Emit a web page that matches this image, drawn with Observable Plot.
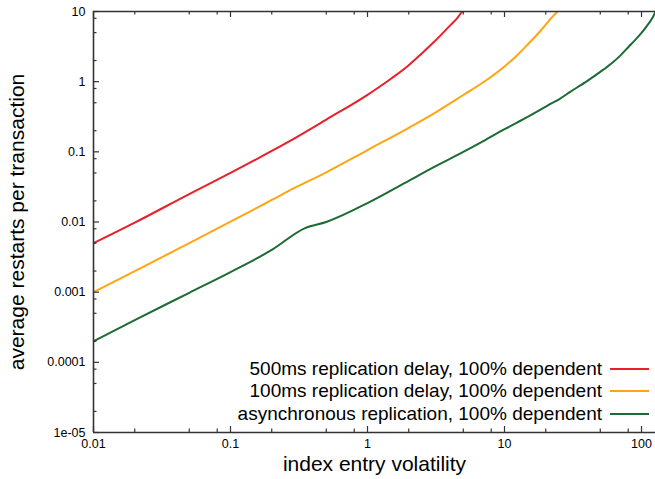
<!DOCTYPE html>
<html><head><meta charset="utf-8">
<script src="https://cdn.jsdelivr.net/npm/d3@7"></script>
<script src="https://cdn.jsdelivr.net/npm/@observablehq/plot@0.6"></script>
<style>
body{margin:0;background:#fff;}
#wrap{position:relative;width:655px;height:479px;font-family:"Liberation Sans",Arial,Helvetica,sans-serif;}
.lg{position:absolute;font-size:19px;color:#000;white-space:nowrap;line-height:19px;}
.sw{position:absolute;height:2px;}
</style></head><body><div id="wrap"></div>
<script>
// ---- data ----
const seriesNames = [
  "500ms replication delay, 100% dependent",
  "100ms replication delay, 100% dependent",
  "asynchronous replication, 100% dependent"
];
const seriesColors = ["#e8202a", "#ffa514", "#1c6a34"];

const redX = [0.01,0.02,0.05,0.1,0.2,0.3,0.5,1,1.5,2,2.5,3,3.5,4,4.5,4.9,5.2];
const redY = [0.005,0.0098,0.025,0.05,0.103,0.16,0.288,0.65,1.12,1.72,2.55,3.55,4.8,6.3,8.0,10,12];

const orangeX = [0.01,0.02,0.05,0.1,0.2,0.3,0.5,1,2,3,5,7,10,12,15,18,20,22,24.3,26];
const orangeY = [0.001,0.002,0.005,0.0101,0.0206,0.0313,0.051,0.106,0.22,0.345,0.645,0.98,1.65,2.25,3.5,5.1,6.5,8.1,10,11.6];

const greenX = [0.01,0.02,0.05,0.1,0.2,0.35,0.5,1,2,3,5,7,10,15,20,22,25,30,40,50,60,70,80,90,100,110,120,127,132];
const greenY = [0.0002,0.0004,0.00098,0.00193,0.0040,0.0082,0.0100,0.0186,0.0386,0.0596,0.0995,0.142,0.21,0.32,0.44,0.49,0.56,0.71,1.02,1.38,1.8,2.35,3.1,3.95,4.97,6.3,8.1,10,11.5];

const xMajor = [0.01,0.1,1,10,100];
const xMajorLabels = ["0.01","0.1","1","10","100"];
const xMinor = [0.02,0.05,0.08,0.2,0.5,0.8,2,5,8,20,50,80];
const yMajor = [1e-5,1e-4,1e-3,0.01,0.1,1,10];
const yMajorLabels = ["1e-05","0.0001","0.001","0.01","0.1","1","10"];
const yMinor = [2e-5,5e-5,8e-5,2e-4,5e-4,8e-4,0.002,0.005,0.008,0.02,0.05,0.08,0.2,0.5,0.8,2,5,8];

const xTitle = "index entry volatility";
const yTitle = "average restarts per transaction";

// ---- build table ----
const xs = [redX, orangeX, greenX], ys = [redY, orangeY, greenY];
const data = [];
seriesNames.forEach((s, i) => xs[i].forEach((x, j) => data.push({series: s, x, y: ys[i][j]})));

const W = 655, H = 479, ML = 93, MR = 0, MT = 11, MB = 47;
const PW = W - ML - MR, PH = H - MT - MB;
const axisColor = "#333";
const font = '"Liberation Sans",Arial,Helvetica,sans-serif';
const fmt = (ticks, labels) => d => labels[ticks.findIndex(v => Math.abs(Math.log10(v) - Math.log10(d)) < 1e-6)];

const chart = Plot.plot({
  width: W, height: H,
  marginLeft: ML, marginRight: MR, marginTop: MT, marginBottom: MB,
  style: {fontFamily: font, fontSize: "12.5px", color: "#000", background: "#fff", overflow: "visible"},
  x: {type: "log", domain: [0.01, 126.5]},
  y: {type: "log", domain: [1e-5, 10]},
  color: {domain: seriesNames, range: seriesColors},
  marks: [
    Plot.line(data, {x: "x", y: "y", z: "series", stroke: "series", strokeWidth: 2, curve: "monotone-x", clip: true}),
    // frame lines
    Plot.ruleX([xMajor[0]], {stroke: axisColor, strokeWidth: 1.6}),
    Plot.ruleY([yMajor[0]], {stroke: axisColor, strokeWidth: 1.6}),
    Plot.ruleY([yMajor[yMajor.length - 1]], {stroke: axisColor, strokeWidth: 1.6}),
    // inward ticks, bottom
    Plot.tickX(xMajor, {x: d => d, insetTop: PH - 6, stroke: axisColor, strokeWidth: 1.2}),
    Plot.tickX(xMinor, {x: d => d, insetTop: PH - 3.5, stroke: axisColor, strokeWidth: 1.2}),
    // mirrored ticks, top
    Plot.tickX(xMajor, {x: d => d, insetBottom: PH - 6, stroke: axisColor, strokeWidth: 1.2}),
    Plot.tickX(xMinor, {x: d => d, insetBottom: PH - 3.5, stroke: axisColor, strokeWidth: 1.2}),
    // inward ticks, left
    Plot.tickY(yMajor, {y: d => d, insetRight: PW - 6, stroke: axisColor, strokeWidth: 1.2}),
    Plot.tickY(yMinor, {y: d => d, insetRight: PW - 3.5, stroke: axisColor, strokeWidth: 1.2}),
    // tick labels
    Plot.axisX({anchor: "bottom", ticks: xMajor, tickSize: 0, tickPadding: 7,
      tickFormat: fmt(xMajor, xMajorLabels), label: null, fill: "#000"}),
    Plot.axisY({anchor: "left", ticks: yMajor, tickSize: 0, tickPadding: 8,
      tickFormat: fmt(yMajor, yMajorLabels), label: null, fill: "#000"}),
    // axis titles
    Plot.text([xTitle], {text: d => d, frameAnchor: "bottom", dy: 38, fontSize: 21, fill: "#000"}),
    Plot.text([yTitle], {text: d => d, frameAnchor: "left", textAnchor: "middle", dx: -76, rotate: -90, fontSize: 21, fill: "#000"})
  ]
});

const wrap = document.getElementById("wrap");
wrap.appendChild(chart);

// legend (overlay, bottom-right inside plot)
const rowCenters = [369, 391, 414];
seriesNames.forEach((s, i) => {
  const t = document.createElement("div");
  t.className = "lg";
  t.textContent = s;
  t.style.right = (W - 602) + "px";
  t.style.top = (rowCenters[i] - 10) + "px";
  wrap.appendChild(t);
  const sw = document.createElement("div");
  sw.className = "sw";
  sw.style.left = "610px";
  sw.style.width = "39px";
  sw.style.top = (rowCenters[i] - 1) + "px";
  sw.style.background = seriesColors[i];
  wrap.appendChild(sw);
});
</script>
</body></html>
